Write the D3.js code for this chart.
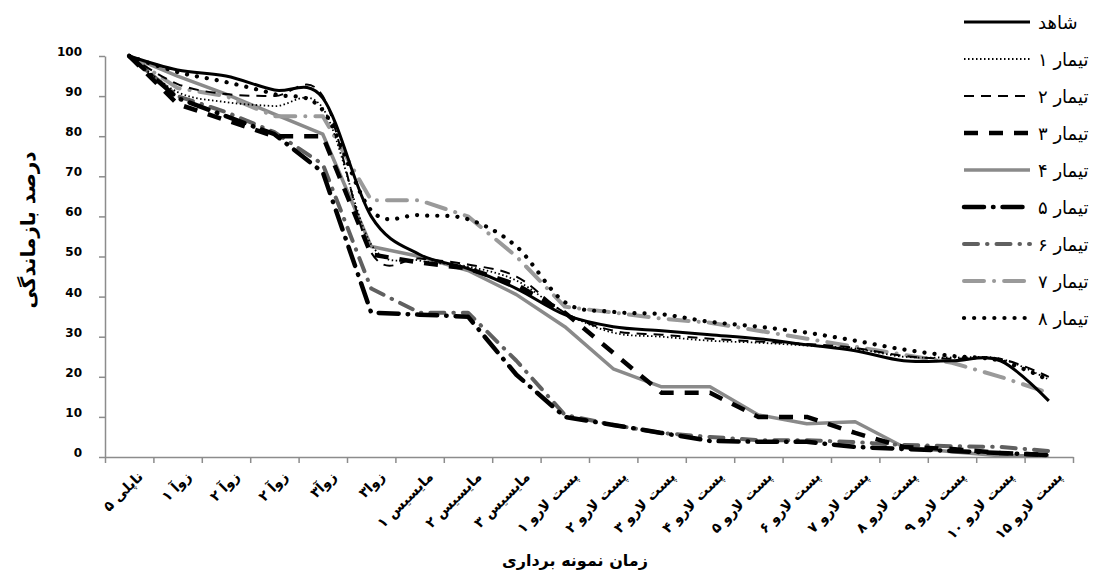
<!DOCTYPE html>
<html><head><meta charset="utf-8">
<script src="https://cdn.jsdelivr.net/npm/d3@7"></script>
<style>
html,body{margin:0;padding:0;background:#fff;}
svg{display:block;}
</style></head>
<body>
<svg id="chart" width="1098" height="586"></svg>
<script>
const categories = ["ناپلی ۵","زوآ ۱","زوآ ۲","زوآ ۲","زوآ۳","زوا۳","مایسیس ۱","مایسیس ۲","مایسیس ۳",
  "پست لارو ۱","پست لارو ۲","پست لارو ۳","پست لارو ۴","پست لارو ۵","پست لارو ۶","پست لارو ۷","پست لارو ۸","پست لارو ۹","پست لارو ۱۰","پست لارو ۱۵"];
const yTicks = [0,10,20,30,40,50,60,70,80,90,100];
const seriesNames = ["شاهد","تیمار ۱","تیمار ۲","تیمار ۳","تیمار ۴","تیمار ۵","تیمار ۶","تیمار ۷","تیمار ۸"];
const control = [100,96.5,95,91.5,89.5,60,50.5,47,42,35.5,32.5,31.5,30.5,29.5,28,26.5,24,24,24,14];
const t1 = [100,91,88.5,87.5,87,53,49,47.5,44,36,31,30,29,28.5,27.8,27,25,24.8,24.5,19.3];
const t2 = [100,93,90.5,90,90,51,49.5,48,45,36,31.5,30.5,29.5,28.8,28.2,27.2,25.2,24.5,24.5,20];
const t3 = [100,88,84,80,80,50.5,48.5,47,43,36,26,16,16,10,10,6,2.5,2,1,0.5];
const t4 = [100,95,90.5,85.5,80.5,52.5,50,46.5,40.5,32.5,22,17.5,17.5,10.5,8.3,8.8,2.5,1.3,0.3,0.3];
const t5 = [100,89.5,85,80.5,71,36,35.5,35,20.5,10,8,6,4,3.8,3.8,2.5,2,1.5,1,0.5];
const t6 = [100,90,86,81,73,42,36,36,24,10.5,8,6,5,4.2,4.2,3.7,3,2.7,2.5,1.5];
const t7 = [100,92,90,85,85,64,64,60,50,37.5,36,34.5,33.5,31.5,29.5,27.5,25.5,23.5,20,16];
const t8 = [100,96,93.5,90.5,86.5,61.5,60.3,59.3,52.5,38.6,36.2,35.6,33.7,32.5,31,29,26.8,25.2,24,19.2];

const seriesValues = [control,t1,t2,t3,t4,t5,t6,t7,t8];
const seriesStyles = [
  {color:"#000", width:3, dash:null, cap:"butt", smooth:true},
  {color:"#000", width:1.8, dash:"1.5,2.5", cap:"butt", smooth:true},
  {color:"#000", width:2, dash:"10,7", cap:"butt", smooth:true},
  {color:"#000", width:4.5, dash:"14,11", cap:"butt", smooth:false},
  {color:"#8a8a8a", width:3.5, dash:null, cap:"butt", smooth:false},
  {color:"#000", width:4.5, dash:"20,9,0.5,9", cap:"round", smooth:false},
  {color:"#606060", width:4, dash:"14,9,0.5,9", cap:"round", smooth:false},
  {color:"#9a9a9a", width:4, dash:"20,10,0.1,10", cap:"round", smooth:false},
  {color:"#000", width:4.2, dash:"0.1,10", cap:"round", smooth:true}
];

const svg = d3.select("#chart");
const pLeft = 105, pRight = 1073, pTop = 56, pBottom = 457;
const x = d3.scaleBand().domain(d3.range(categories.length)).range([pLeft, pRight]).paddingInner(0).paddingOuter(0);
const xb = d3.scaleLinear().domain([0, categories.length]).range([pLeft, pRight]);
const y = d3.scaleLinear().domain([0, 100]).range([pBottom, pTop]);
const cx = i => x(i) + x.bandwidth()/2;

// Y axis
const yAxis = svg.append("g").attr("transform", `translate(${pLeft},0)`)
  .call(d3.axisLeft(y).tickValues(yTicks).tickSize(6).tickSizeOuter(0).tickPadding(17));
yAxis.select(".domain").attr("stroke", "#8c8c8c").attr("stroke-width", 1.5);
yAxis.selectAll(".tick line").attr("stroke", "#8c8c8c").attr("stroke-width", 1.5);
yAxis.selectAll(".tick text").attr("font-family", "DejaVu Sans, sans-serif").attr("font-weight", "bold")
  .attr("font-size", 12).attr("fill", "#000").attr("dy", "-0.05em");

// X axis (ticks at category boundaries)
const xAxis = svg.append("g").attr("transform", `translate(0,${pBottom})`)
  .call(d3.axisBottom(xb).tickValues(d3.range(categories.length + 1)).tickFormat("").tickSize(6).tickSizeOuter(0));
xAxis.select(".domain").attr("stroke", "#8c8c8c").attr("stroke-width", 1.5);
xAxis.selectAll(".tick line").attr("stroke", "#8c8c8c").attr("stroke-width", 1.5);

svg.append("g").selectAll("text").data(categories).join("text")
  .attr("transform", (d, i) => `translate(${cx(i) + 11},${pBottom + 17}) rotate(-45)`)
  .attr("text-anchor", "end")
  .attr("dominant-baseline", "central")
  .attr("font-family", "DejaVu Sans, sans-serif").attr("font-weight", "bold").attr("font-size", 14)
  .attr("fill", "#000")
  .text(d => d);

// Lines
const lineSmooth = d3.line().x((d, i) => cx(i)).y(d => y(d)).curve(d3.curveCardinal.tension(0));
const lineStraight = d3.line().x((d, i) => cx(i)).y(d => y(d)).curve(d3.curveLinear);
const linesG = svg.append("g");
const order = [4,7,6,1,2,3,5,8,0];
order.forEach(k => {
  const s = seriesStyles[k];
  linesG.append("path")
    .attr("d", (s.smooth ? lineSmooth : lineStraight)(seriesValues[k]))
    .attr("fill", "none").attr("stroke", s.color).attr("stroke-width", s.width)
    .attr("stroke-dasharray", s.dash).attr("stroke-linecap", s.cap).attr("stroke-linejoin", "round");
});

// Legend
const lg = svg.append("g");
seriesNames.forEach((name, k) => {
  const s = seriesStyles[k];
  const ly = 22 + k * 37;
  lg.append("line").attr("x1", 964).attr("x2", 1030).attr("y1", ly).attr("y2", ly)
    .attr("stroke", s.color).attr("stroke-width", s.width).attr("stroke-dasharray", s.dash)
    .attr("stroke-linecap", s.cap);
  lg.append("text").attr("x", 1038).attr("y", ly).attr("dominant-baseline", "central")
    .attr("font-family", "DejaVu Sans, sans-serif").attr("font-size", 18).attr("fill", "#000")
    .text(name);
});

// Titles
svg.append("text").attr("transform", `translate(28,230) rotate(-90)`)
  .attr("text-anchor", "middle").attr("dominant-baseline", "central")
  .attr("font-family", "DejaVu Sans, sans-serif").attr("font-weight", "bold").attr("font-size", 20)
  .text("درصد بازماندگی");
svg.append("text").attr("x", 575).attr("y", 560)
  .attr("text-anchor", "middle").attr("dominant-baseline", "central")
  .attr("font-family", "DejaVu Sans, sans-serif").attr("font-weight", "bold").attr("font-size", 16)
  .text("زمان نمونه برداری");
</script>
</body></html>
